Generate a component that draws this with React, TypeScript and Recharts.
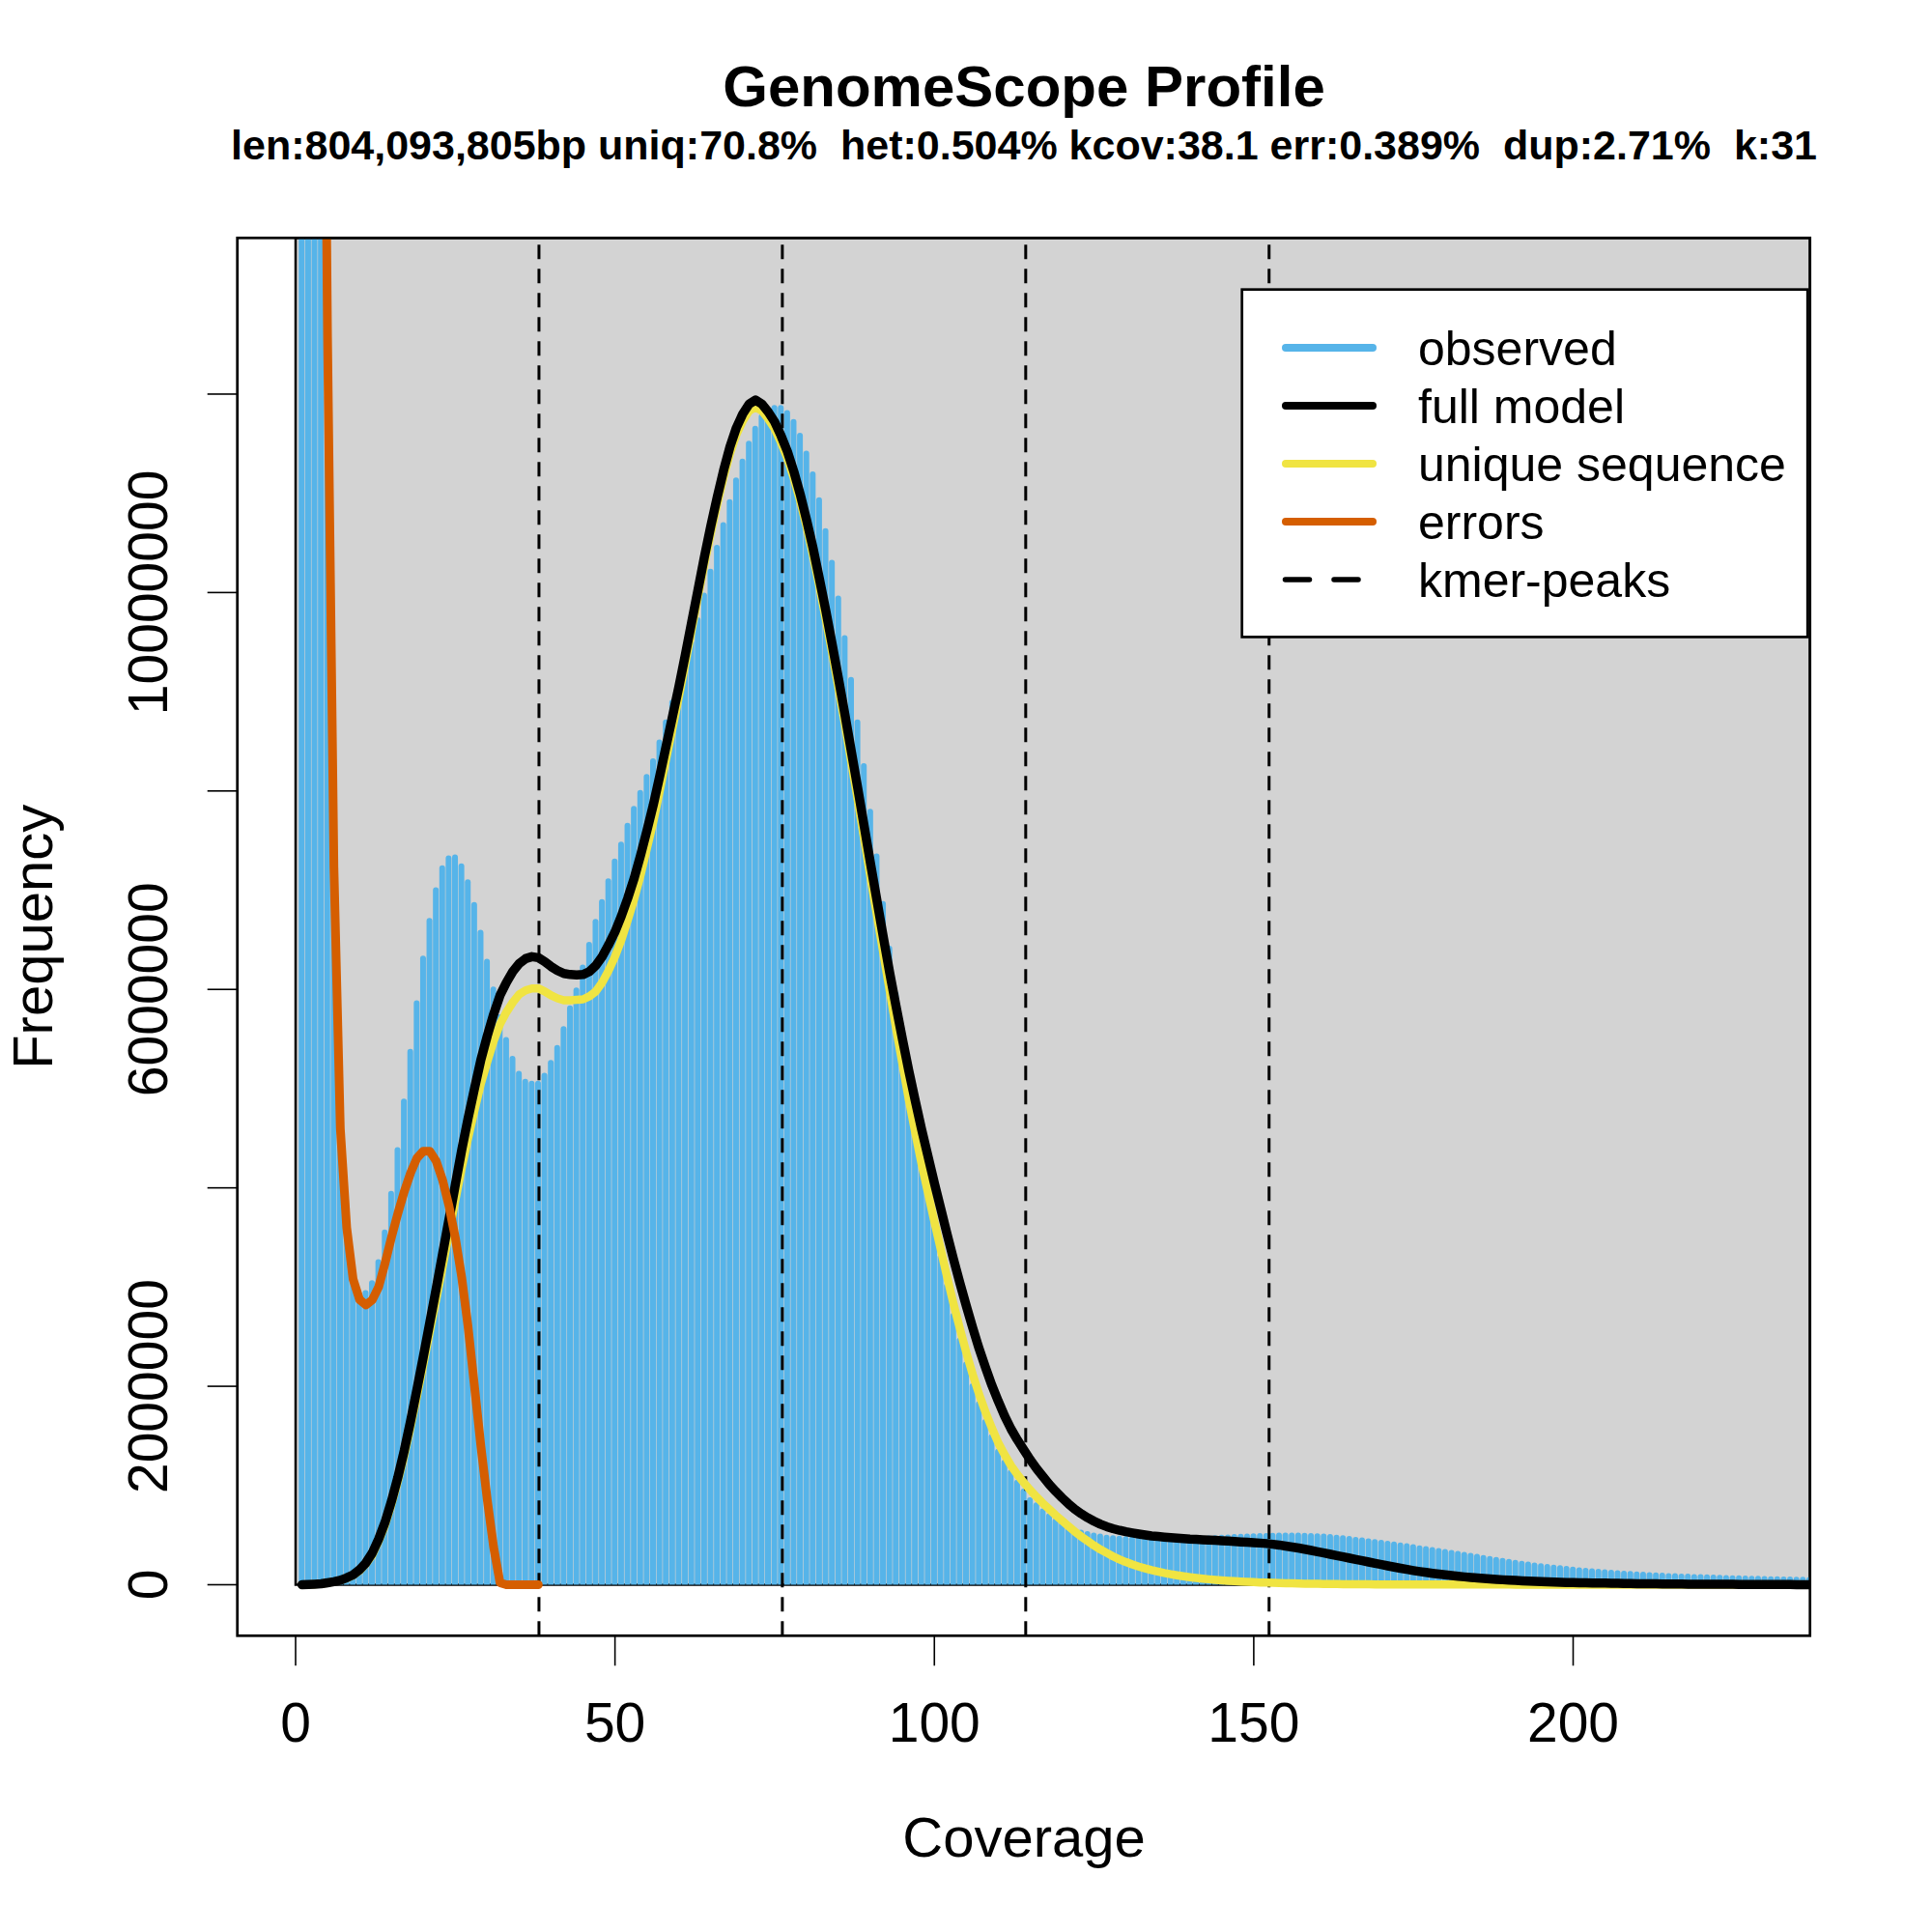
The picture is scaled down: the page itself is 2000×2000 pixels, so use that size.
import React from 'react';
import { ComposedChart, Bar, Line, XAxis, YAxis, ReferenceArea, ReferenceLine } from 'recharts';

const FONT = '"Liberation Sans", Arial, Helvetica, sans-serif';

// k-mer coverage bins
const coverage = [
  1,2,3,4,5,6,7,8,9,10,11,12,13,14,15,16,17,18,19,20,21,22,23,24,25,26,27,28,29,30,
  31,32,33,34,35,36,37,38,39,40,41,42,43,44,45,46,47,48,49,50,51,52,53,54,55,56,57,58,59,60,
  61,62,63,64,65,66,67,68,69,70,71,72,73,74,75,76,77,78,79,80,81,82,83,84,85,86,87,88,89,90,
  91,92,93,94,95,96,97,98,99,100,101,102,103,104,105,106,107,108,109,110,111,112,113,114,115,116,117,118,119,120,
  121,122,123,124,125,126,127,128,129,130,131,132,133,134,135,136,137,138,139,140,141,142,143,144,145,146,147,148,149,150,
  151,152,153,154,155,156,157,158,159,160,161,162,163,164,165,166,167,168,169,170,171,172,173,174,175,176,177,178,179,180,
  181,182,183,184,185,186,187,188,189,190,191,192,193,194,195,196,197,198,199,200,201,202,203,204,205,206,207,208,209,210,
  211,212,213,214,215,216,217,218,219,220,221,222,223,224,225,226,227,228,229,230,231,232,233,234,235,236,237,238,
];

// observed frequency (millions)
const observed = [
  60, 40, 28, 19, 12.0, 7.3, 4.7, 3.65, 3.15, 2.95,
  2.97, 3.07, 3.28, 3.58, 3.97, 4.41, 4.90, 5.40, 5.89, 6.34,
  6.72, 7.03, 7.25, 7.35, 7.36, 7.27, 7.11, 6.88, 6.60, 6.31,
  6.03, 5.75, 5.52, 5.33, 5.18, 5.10, 5.08, 5.08, 5.16, 5.29,
  5.44, 5.63, 5.84, 6.02, 6.25, 6.48, 6.71, 6.91, 7.12, 7.32,
  7.49, 7.68, 7.85, 8.01, 8.17, 8.33, 8.52, 8.72, 8.92, 9.11,
  9.31, 9.52, 9.75, 10.00, 10.24, 10.48, 10.71, 10.94, 11.16, 11.35,
  11.53, 11.68, 11.80, 11.87, 11.89, 11.89, 11.84, 11.75, 11.61, 11.43,
  11.22, 10.96, 10.65, 10.33, 9.97, 9.57, 9.15, 8.72, 8.28, 7.82,
  7.37, 6.89, 6.44, 5.98, 5.57, 5.16, 4.75, 4.36, 3.99, 3.67,
  3.33, 3.04, 2.74, 2.49, 2.25, 2.03, 1.85, 1.67, 1.52, 1.37,
  1.26, 1.16, 1.06, 0.97, 0.88, 0.83, 0.77, 0.72, 0.67, 0.63,
  0.60, 0.575, 0.555, 0.54, 0.525, 0.515, 0.505, 0.498, 0.494, 0.49,
  0.488, 0.487, 0.486, 0.485, 0.484, 0.484, 0.485, 0.486, 0.487, 0.489,
  0.491, 0.494, 0.497, 0.5, 0.503, 0.506, 0.51, 0.513, 0.516, 0.518,
  0.52, 0.521, 0.523, 0.525, 0.526, 0.526, 0.525, 0.524, 0.522, 0.519,
  0.515, 0.51, 0.505, 0.498, 0.491, 0.483, 0.476, 0.468, 0.46, 0.452,
  0.444, 0.436, 0.427, 0.418, 0.408, 0.398, 0.389, 0.379, 0.37, 0.36,
  0.35, 0.341, 0.331, 0.321, 0.311, 0.3, 0.29, 0.28, 0.27, 0.26,
  0.25, 0.242, 0.233, 0.225, 0.217, 0.21, 0.202, 0.196, 0.189, 0.182,
  0.176, 0.17, 0.165, 0.16, 0.155, 0.15, 0.146, 0.142, 0.138, 0.134,
  0.131, 0.127, 0.124, 0.121, 0.118, 0.116, 0.113, 0.111, 0.108, 0.106,
  0.104, 0.102, 0.1, 0.098, 0.096, 0.094, 0.093, 0.091, 0.089, 0.088,
  0.086, 0.085, 0.083, 0.082, 0.081, 0.08, 0.079, 0.078,
];

// full model (millions)
const fullModel = [
  0.0, 0.003, 0.006, 0.01, 0.02, 0.03, 0.045, 0.07, 0.10, 0.15,
  0.22, 0.32, 0.46, 0.63, 0.84, 1.08, 1.35, 1.65, 1.97, 2.3,
  2.64, 2.98, 3.33, 3.68, 4.03, 4.38, 4.7, 5.0, 5.29, 5.53,
  5.75, 5.94, 6.07, 6.18, 6.26, 6.31, 6.33, 6.32, 6.28, 6.23,
  6.19, 6.16, 6.15, 6.146, 6.15, 6.18, 6.24, 6.33, 6.45, 6.58,
  6.74, 6.92, 7.12, 7.35, 7.6, 7.86, 8.15, 8.45, 8.75, 9.05,
  9.37, 9.7, 10.03, 10.36, 10.67, 10.96, 11.23, 11.47, 11.66, 11.8,
  11.9, 11.94, 11.9, 11.82, 11.72, 11.58, 11.42, 11.22, 10.99, 10.73,
  10.45, 10.14, 9.82, 9.48, 9.13, 8.77, 8.4, 8.03, 7.65, 7.27,
  6.9, 6.53, 6.17, 5.83, 5.5, 5.18, 4.88, 4.59, 4.32, 4.05,
  3.79, 3.53, 3.28, 3.04, 2.81, 2.59, 2.38, 2.19, 2.01, 1.85,
  1.7, 1.57, 1.46, 1.36, 1.26, 1.17, 1.09, 1.01, 0.94, 0.875,
  0.815, 0.76, 0.715, 0.675, 0.64, 0.61, 0.585, 0.565, 0.548, 0.534,
  0.522, 0.511, 0.501, 0.492, 0.486, 0.48, 0.475, 0.47, 0.465, 0.46,
  0.457, 0.453, 0.45, 0.447, 0.443, 0.44, 0.436, 0.432, 0.428, 0.424,
  0.42, 0.415, 0.408, 0.4, 0.39, 0.38, 0.37, 0.358, 0.346, 0.333,
  0.32, 0.307, 0.294, 0.281, 0.268, 0.255, 0.242, 0.229, 0.216, 0.203,
  0.19, 0.178, 0.166, 0.154, 0.143, 0.133, 0.124, 0.115, 0.107, 0.099,
  0.092, 0.085, 0.079, 0.073, 0.068, 0.063, 0.058, 0.054, 0.05, 0.046,
  0.043, 0.04, 0.037, 0.034, 0.031, 0.029, 0.027, 0.025, 0.023, 0.021,
  0.02, 0.019, 0.018, 0.017, 0.016, 0.015, 0.014, 0.013, 0.012, 0.011,
  0.01, 0.009, 0.009, 0.008, 0.008, 0.007, 0.007, 0.006, 0.006, 0.005,
  0.005, 0.005, 0.004, 0.004, 0.004, 0.003, 0.003, 0.003, 0.003, 0.002,
  0.002, 0.002, 0.002, 0.002, 0.001, 0.001, 0.001, 0.001,
];

// unique sequence model (millions)
const uniqueSequence = [
  0.0, 0.003, 0.006, 0.01, 0.02, 0.03, 0.045, 0.067, 0.095, 0.14,
  0.21, 0.3, 0.44, 0.6, 0.81, 1.04, 1.3, 1.59, 1.9, 2.22,
  2.55, 2.87, 3.2, 3.54, 3.87, 4.2, 4.5, 4.78, 5.05, 5.27,
  5.48, 5.65, 5.77, 5.87, 5.95, 5.99, 6.01, 6.01, 5.98, 5.94,
  5.91, 5.89, 5.89, 5.896, 5.9, 5.93, 5.98, 6.07, 6.19, 6.33,
  6.5, 6.7, 6.91, 7.15, 7.42, 7.69, 8.0, 8.32, 8.63, 8.95,
  9.28, 9.62, 9.96, 10.29, 10.6, 10.89, 11.16, 11.4, 11.59, 11.73,
  11.83, 11.87, 11.83, 11.75, 11.65, 11.51, 11.35, 11.15, 10.92, 10.66,
  10.37, 10.06, 9.73, 9.39, 9.03, 8.67, 8.29, 7.91, 7.52, 7.13,
  6.75, 6.37, 5.99, 5.61, 5.25, 4.89, 4.56, 4.24, 3.95, 3.66,
  3.38, 3.1, 2.83, 2.58, 2.34, 2.12, 1.92, 1.74, 1.58, 1.43,
  1.31, 1.2, 1.11, 1.03, 0.955, 0.885, 0.82, 0.76, 0.7, 0.645,
  0.59, 0.535, 0.485, 0.44, 0.395, 0.355, 0.32, 0.285, 0.255, 0.228,
  0.204, 0.183, 0.164, 0.147, 0.132, 0.118, 0.106, 0.095, 0.085, 0.076,
  0.068, 0.061, 0.055, 0.049, 0.044, 0.04, 0.036, 0.032, 0.029, 0.026,
  0.023, 0.021, 0.019, 0.017, 0.015, 0.014, 0.012, 0.011, 0.01, 0.009,
  0.008, 0.007, 0.007, 0.006, 0.005, 0.005, 0.004, 0.004, 0.003, 0.003,
  0.003, 0.003, 0.002, 0.002, 0.002, 0.002, 0.002, 0.002, 0.002, 0.002,
  0.002, 0.002, 0.002, 0.002, 0.002, 0.002, 0.002, 0.002, 0.002, 0.002,
  0.001, 0.001, 0.001, 0.001, 0.001, 0.001, 0.001, 0.001, 0.001, 0.001,
  0.001, 0.001, 0.001, 0.001, 0.001, 0.001, 0.001, 0.001, 0.001, 0.001,
  0.001, 0.001, 0.001, 0.001, 0.001, 0.001, 0.001, 0.001, 0.001, 0.001,
  0.001, 0.001, 0.001, 0.001, 0.001, 0.001, 0.001, 0.001, 0.001, 0.001,
  0.001, 0.001, 0.001, 0.001, 0.001, 0.001, 0.001, 0.001,
];

// error k-mers model (millions), coverage 1..38
const errorKmers = [
  70, 45, 30, 20, 12.57, 7.23, 4.6, 3.6, 3.08, 2.875,
  2.82, 2.87, 3.0, 3.24, 3.5, 3.74, 3.96, 4.15, 4.3, 4.37,
  4.37, 4.27, 4.08, 3.82, 3.5, 3.1, 2.6, 2.0, 1.4, 0.86,
  0.38, 0.02, 0, 0, 0, 0, 0, 0,
];

const kmerPeaks = [38.1, 76.2, 114.3, 152.4];
const xTicks = [0, 50, 100, 150, 200];
const yTicks = [0, 2, 4, 6, 8, 10, 12];
const yTickLabels = ['0', '2000000', '', '6000000', '', '10000000', ''];

const titleText = 'GenomeScope Profile';
const subtitleText = 'len:804,093,805bp uniq:70.8%  het:0.504% kcov:38.1 err:0.389%  dup:2.71%  k:31';
const xLabel = 'Coverage';
const yLabel = 'Frequency';

const legendItems = [
  { label: 'observed', color: '#56B4E9', dashed: false },
  { label: 'full model', color: '#000000', dashed: false },
  { label: 'unique sequence', color: '#F0E442', dashed: false },
  { label: 'errors', color: '#D55E00', dashed: false },
  { label: 'kmer-peaks', color: '#000000', dashed: true },
];

const X_DOMAIN: [number, number] = [-9.12, 237.08];
const Y_DOMAIN: [number, number] = [-0.514, 13.574];

const data = coverage.map((c, i) => ({
  c,
  obs: observed[i],
  full: fullModel[i],
  uniq: uniqueSequence[i],
  err: i < errorKmers.length ? errorKmers[i] : null,
}));

const XTick = (props: any) => {
  const { x, y, payload } = props;
  return (
    <text x={x} y={y + 78.7} textAnchor="middle" fontSize={57} fontFamily={FONT} fill="#000">
      {payload.value}
    </text>
  );
};

const YTick = (props: any) => {
  const { x, y, payload } = props;
  const idx = yTicks.indexOf(payload.value);
  const label = idx >= 0 ? yTickLabels[idx] : '';
  if (!label) return <g />;
  const bx = x - 41.7;
  return (
    <text
      x={bx}
      y={y}
      transform={`rotate(-90 ${bx} ${y})`}
      textAnchor="middle"
      fontSize={57}
      fontFamily={FONT}
      fill="#000"
    >
      {label}
    </text>
  );
};

export default function App() {
  return (
    <div style={{ position: 'absolute', left: 0, top: 0, width: 2000, height: 2000, background: '#fff' }}>
      <ComposedChart
        width={2000}
        height={2000}
        data={data}
        margin={{ top: 246.3, right: 126.3, bottom: 106.7, left: 45.7 }}
      >
        <XAxis
          dataKey="c"
          type="number"
          domain={X_DOMAIN}
          allowDataOverflow
          ticks={xTicks}
          interval={0}
          axisLine={false}
          tickSize={31}
          tickMargin={0}
          tickLine={{ stroke: '#000', strokeWidth: 1.6 }}
          tick={XTick}
          height={200}
        />
        <YAxis
          type="number"
          domain={Y_DOMAIN}
          allowDataOverflow
          ticks={yTicks}
          interval={0}
          axisLine={false}
          tickSize={31}
          tickMargin={0}
          tickLine={{ stroke: '#000', strokeWidth: 1.6 }}
          tick={YTick}
          width={200}
        />
        <ReferenceArea
          x1={0}
          x2={X_DOMAIN[1]}
          y1={0}
          y2={Y_DOMAIN[1]}
          fill="#D3D3D3"
          fillOpacity={1}
          stroke="#000"
          strokeWidth={2.5}
          zIndex={50}
        />
        <Bar
          dataKey="obs"
          fill="#56B4E9"
          barSize={6}
          radius={[3, 3, 0, 0]}
          isAnimationActive={false}
        />
        {kmerPeaks.map((p) => (
          <ReferenceLine
            key={p}
            x={p}
            stroke="#000"
            strokeWidth={3}
            strokeDasharray="15 10"
            zIndex={350}
          />
        ))}
        <Line
          dataKey="uniq"
          type="linear"
          stroke="#F0E442"
          strokeWidth={8.5}
          dot={false}
          activeDot={false}
          strokeLinejoin="round"
          strokeLinecap="round"
          isAnimationActive={false}
          zIndex={400}
        />
        <Line
          dataKey="full"
          type="linear"
          stroke="#000000"
          strokeWidth={9.5}
          dot={false}
          activeDot={false}
          strokeLinejoin="round"
          strokeLinecap="round"
          isAnimationActive={false}
          zIndex={410}
        />
        <Line
          dataKey="err"
          type="linear"
          stroke="#D55E00"
          strokeWidth={9}
          dot={false}
          activeDot={false}
          strokeLinejoin="round"
          strokeLinecap="round"
          isAnimationActive={false}
          zIndex={420}
        />
      </ComposedChart>
      <svg
        width={2000}
        height={2000}
        style={{ position: 'absolute', left: 0, top: 0, pointerEvents: 'none' }}
      >
        <rect x={245.7} y={246.3} width={1628} height={1447} fill="none" stroke="#000" strokeWidth={2.7} />
        <text x={1060} y={110} textAnchor="middle" fontSize={60} fontWeight="bold" fontFamily={FONT} fill="#000">
          {titleText}
        </text>
        <text
          x={1060}
          y={164.5}
          textAnchor="middle"
          fontSize={43}
          fontWeight="bold"
          fontFamily={FONT}
          fill="#000"
          xmlSpace="preserve"
          style={{ whiteSpace: 'pre' }}
        >
          {subtitleText}
        </text>
        <text x={1060} y={1922} textAnchor="middle" fontSize={58} fontFamily={FONT} fill="#000">
          {xLabel}
        </text>
        <text
          x={54}
          y={969.8}
          transform="rotate(-90 54 969.8)"
          textAnchor="middle"
          fontSize={58}
          fontFamily={FONT}
          fill="#000"
        >
          {yLabel}
        </text>
        <rect x={1285.7} y={299.7} width={585.5} height={359.7} fill="#fff" stroke="#000" strokeWidth={2.7} />
        {legendItems.map((item, i) => {
          const cy = 360 + i * 60;
          return (
            <g key={item.label}>
              {item.dashed ? (
                <line
                  x1={1330.5}
                  x2={1421}
                  y1={cy}
                  y2={cy}
                  stroke={item.color}
                  strokeWidth={5.5}
                  strokeLinecap="round"
                  strokeDasharray="25 25.5"
                />
              ) : (
                <line
                  x1={1331}
                  x2={1421}
                  y1={cy}
                  y2={cy}
                  stroke={item.color}
                  strokeWidth={8}
                  strokeLinecap="round"
                />
              )}
              <text x={1468} y={cy + 18} fontSize={50} fontFamily={FONT} fill="#000">
                {item.label}
              </text>
            </g>
          );
        })}
      </svg>
    </div>
  );
}
